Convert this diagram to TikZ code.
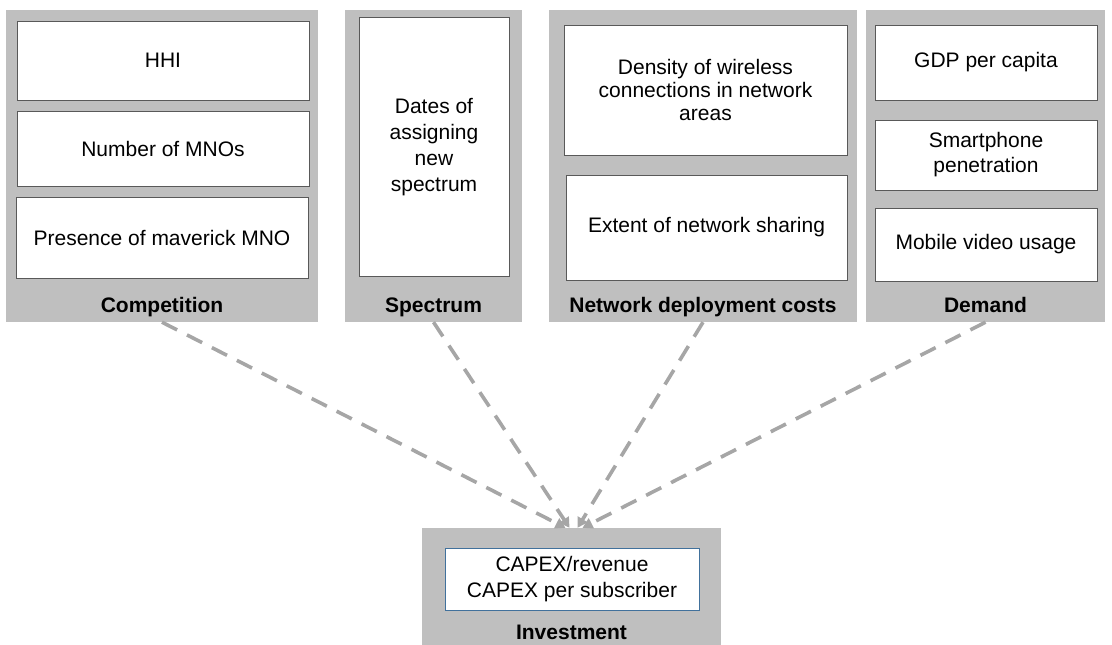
\documentclass[tikz,border=0pt]{standalone}
\usepackage{fontspec}
\setmainfont{Liberation Sans}
\usetikzlibrary{arrows.meta}
\definecolor{panelgray}{HTML}{BFBFBF}
\definecolor{boxline}{HTML}{595959}
\definecolor{linkgray}{HTML}{A6A6A6}
\definecolor{steel}{HTML}{41719C}
\begin{document}
\begin{tikzpicture}[x=1pt,y=-1pt,
  panel/.style={fill=panelgray,draw=none,inner sep=0pt},
  item/.style={fill=white,draw=boxline,line width=0.7pt,inner sep=2pt,align=center,
    font=\fontsize{21}{24}\selectfont},
  heading/.style={inner sep=0pt,anchor=base,font=\fontsize{21}{24}\selectfont\bfseries},
  link/.style={draw=linkgray,line width=3.6pt,dash pattern=on 17pt off 11pt,
    -{Triangle[length=10pt,width=11pt]}}]
\useasboundingbox (0,0) rectangle (1112,645);

% grey category panels
\node[panel,minimum width=312pt,minimum height=312pt] (comp) at (162,166) {};
\node[panel,minimum width=177pt,minimum height=312pt] (spec) at (433.5,166) {};
\node[panel,minimum width=308pt,minimum height=312pt] (netw) at (703,166) {};
\node[panel,minimum width=239pt,minimum height=312pt] (dem) at (985.5,166) {};
\node[panel,minimum width=299pt,minimum height=117pt] (inv) at (571.5,586.5) {};

% competition
\node[item,minimum width=292pt,minimum height=79pt] (hhi) at (163,60.5) {HHI};
\node[item,minimum width=292pt,minimum height=75pt] (nmno) at (163,148.5) {Number of MNOs};
\node[item,minimum width=292pt,minimum height=81pt] (mav) at (162,237.5) {Presence of maverick MNO};
\node[heading] (compl) at (162,312) {Competition};

% spectrum
\node[item,minimum width=150pt,minimum height=259pt,
  font=\fontsize{21}{26}\selectfont] (dates) at (434,147)
  {Dates of\\assigning\\new\\spectrum};
\node[heading] (specl) at (433.5,312) {Spectrum};

% network deployment costs
\node[item,minimum width=283pt,minimum height=130pt,
  font=\fontsize{21}{23.3}\selectfont] (dens) at (705.5,90)
  {Density of wireless\\connections in network\\areas};
\node[item,minimum width=281pt,minimum height=105pt] (share) at (706.5,227.5)
  {Extent of network sharing};
\node[heading] (netwl) at (703,312) {Network deployment costs};

% demand
\node[item,minimum width=222pt,minimum height=75pt] (gdp) at (986,62.5) {GDP per capita};
\node[item,minimum width=222pt,minimum height=70pt,
  font=\fontsize{21}{25}\selectfont] (smart) at (986,155) {Smartphone\\penetration};
\node[item,minimum width=222pt,minimum height=73pt] (video) at (986,244.5) {Mobile video usage};
\node[heading] (deml) at (985.5,312) {Demand};

% investment
\node[item,draw=steel,line width=0.9pt,minimum width=254pt,minimum height=62pt,
  font=\fontsize{21}{26}\selectfont] (capex) at (572,579)
  {CAPEX/revenue\\CAPEX per subscriber};
\node[heading] (invl) at (571.5,639) {Investment};

% influences
\draw[link] (comp.south) -- ([xshift=-6pt]inv.north);
\draw[link] (spec.south) -- ([xshift=-2pt]inv.north);
\draw[link] (netw.south) -- ([xshift=6pt]inv.north);
\draw[link] (dem.south) -- ([xshift=11pt]inv.north);
\end{tikzpicture}
\end{document}
